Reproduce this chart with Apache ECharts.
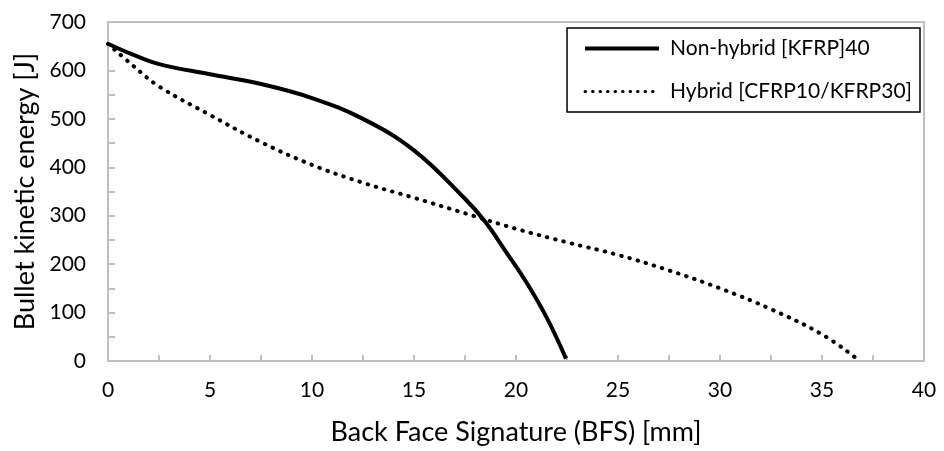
<!DOCTYPE html>
<html>
<head>
<meta charset="utf-8">
<script src="https://cdn.jsdelivr.net/npm/echarts@6/dist/echarts.min.js"></script>
<style>
  html, body { margin: 0; padding: 0; background: #fff; }
  #chart { width: 944px; height: 451px; }
</style>
</head>
<body>
<div id="chart"></div>
<script>
// values: [BFS mm, energy J]
const nonHybridBfs = [0, 1.25, 2.5, 5, 7.5, 10, 12.5, 15, 17.5, 18.5, 19.5, 20.5, 21.5, 22.45]
const nonHybridEnergy = [655, 632, 613, 592, 572, 543, 500, 435, 335, 287, 226, 163, 90, 5]
const hybridBfs = [0, 1.25, 2.5, 5, 7.5, 10, 12.5, 15, 17.5, 20, 22.5, 25, 27.5, 30, 32.5, 35, 36.7]
const hybridEnergy = [655, 609, 567, 508, 452, 405, 368, 337, 305, 273, 245, 219, 187, 150, 107, 55, 5]
const seriesNames = ['Non-hybrid [KFRP]40', 'Hybrid [CFRP10/KFRP30]']

const pairs = (xs, ys) => xs.map((x, i) => [x, ys[i]])

const font = 'Lato, "Open Sans", sans-serif'
const grey = '#bfbfbf'
const dotted = [0.5, 8]

let chart = echarts.init(document.getElementById('chart'))
chart.setOption({
  animation: false,
  textStyle: { fontFamily: font, color: '#000' },
  grid: {
    left: 108, right: 20, top: 22, bottom: 86,
    show: true, borderColor: grey, borderWidth: 2
  },
  legend: {
    right: 24, top: 28,
    orient: 'vertical',
    backgroundColor: '#fff',
    borderColor: '#000', borderWidth: 1.5,
    padding: [10, 8, 10, 16],
    itemGap: 22,
    itemWidth: 74, itemHeight: 14,
    itemStyle: { opacity: 0 },
    textStyle: { fontSize: 21, color: '#000', fontFamily: font, padding: [0, 0, 0, 6] },
    data: [
      { name: seriesNames[0], lineStyle: { width: 4, color: '#000' } },
      { name: seriesNames[1], lineStyle: { width: 3, color: '#000', type: [0.5, 7], cap: 'round' } }
    ]
  },
  xAxis: {
    type: 'value',
    min: 0, max: 40, interval: 5,
    name: 'Back Face Signature (BFS) [mm]',
    nameLocation: 'middle', nameGap: 58,
    nameTextStyle: { fontSize: 27, color: '#000', fontFamily: font },
    axisLine: { show: true, lineStyle: { color: grey, width: 2 } },
    axisTick: { show: true, inside: true, length: 6, lineStyle: { color: grey, width: 2 } },
    minorTick: { show: true, splitNumber: 2, length: 6, lineStyle: { color: grey, width: 2 } },
    axisLabel: { fontSize: 21, color: '#000', margin: 19 },
    splitLine: { show: false }
  },
  yAxis: {
    type: 'value',
    min: 0, max: 700, interval: 100,
    name: 'Bullet kinetic energy [J]',
    nameLocation: 'middle', nameGap: 68,
    nameTextStyle: { fontSize: 27, color: '#000', fontFamily: font },
    axisLine: { show: true, lineStyle: { color: grey, width: 2 } },
    axisTick: { show: true, inside: true, length: 7, lineStyle: { color: grey, width: 2 } },
    minorTick: { show: true, splitNumber: 2, length: 7, lineStyle: { color: grey, width: 2 } },
    axisLabel: { fontSize: 21, color: '#000', margin: 22 },
    splitLine: { show: false }
  },
  series: [
    {
      name: seriesNames[0],
      type: 'line',
      smooth: 0.4,
      symbol: 'none',
      lineStyle: { color: '#000', width: 4 },
      itemStyle: { color: '#000' },
      data: pairs(nonHybridBfs, nonHybridEnergy)
    },
    {
      name: seriesNames[1],
      type: 'line',
      smooth: 0.4,
      symbol: 'none',
      lineStyle: { color: '#000', width: 4, type: dotted, cap: 'round' },
      itemStyle: { color: '#000' },
      data: pairs(hybridBfs, hybridEnergy)
    }
  ]
})
</script>
</body>
</html>
